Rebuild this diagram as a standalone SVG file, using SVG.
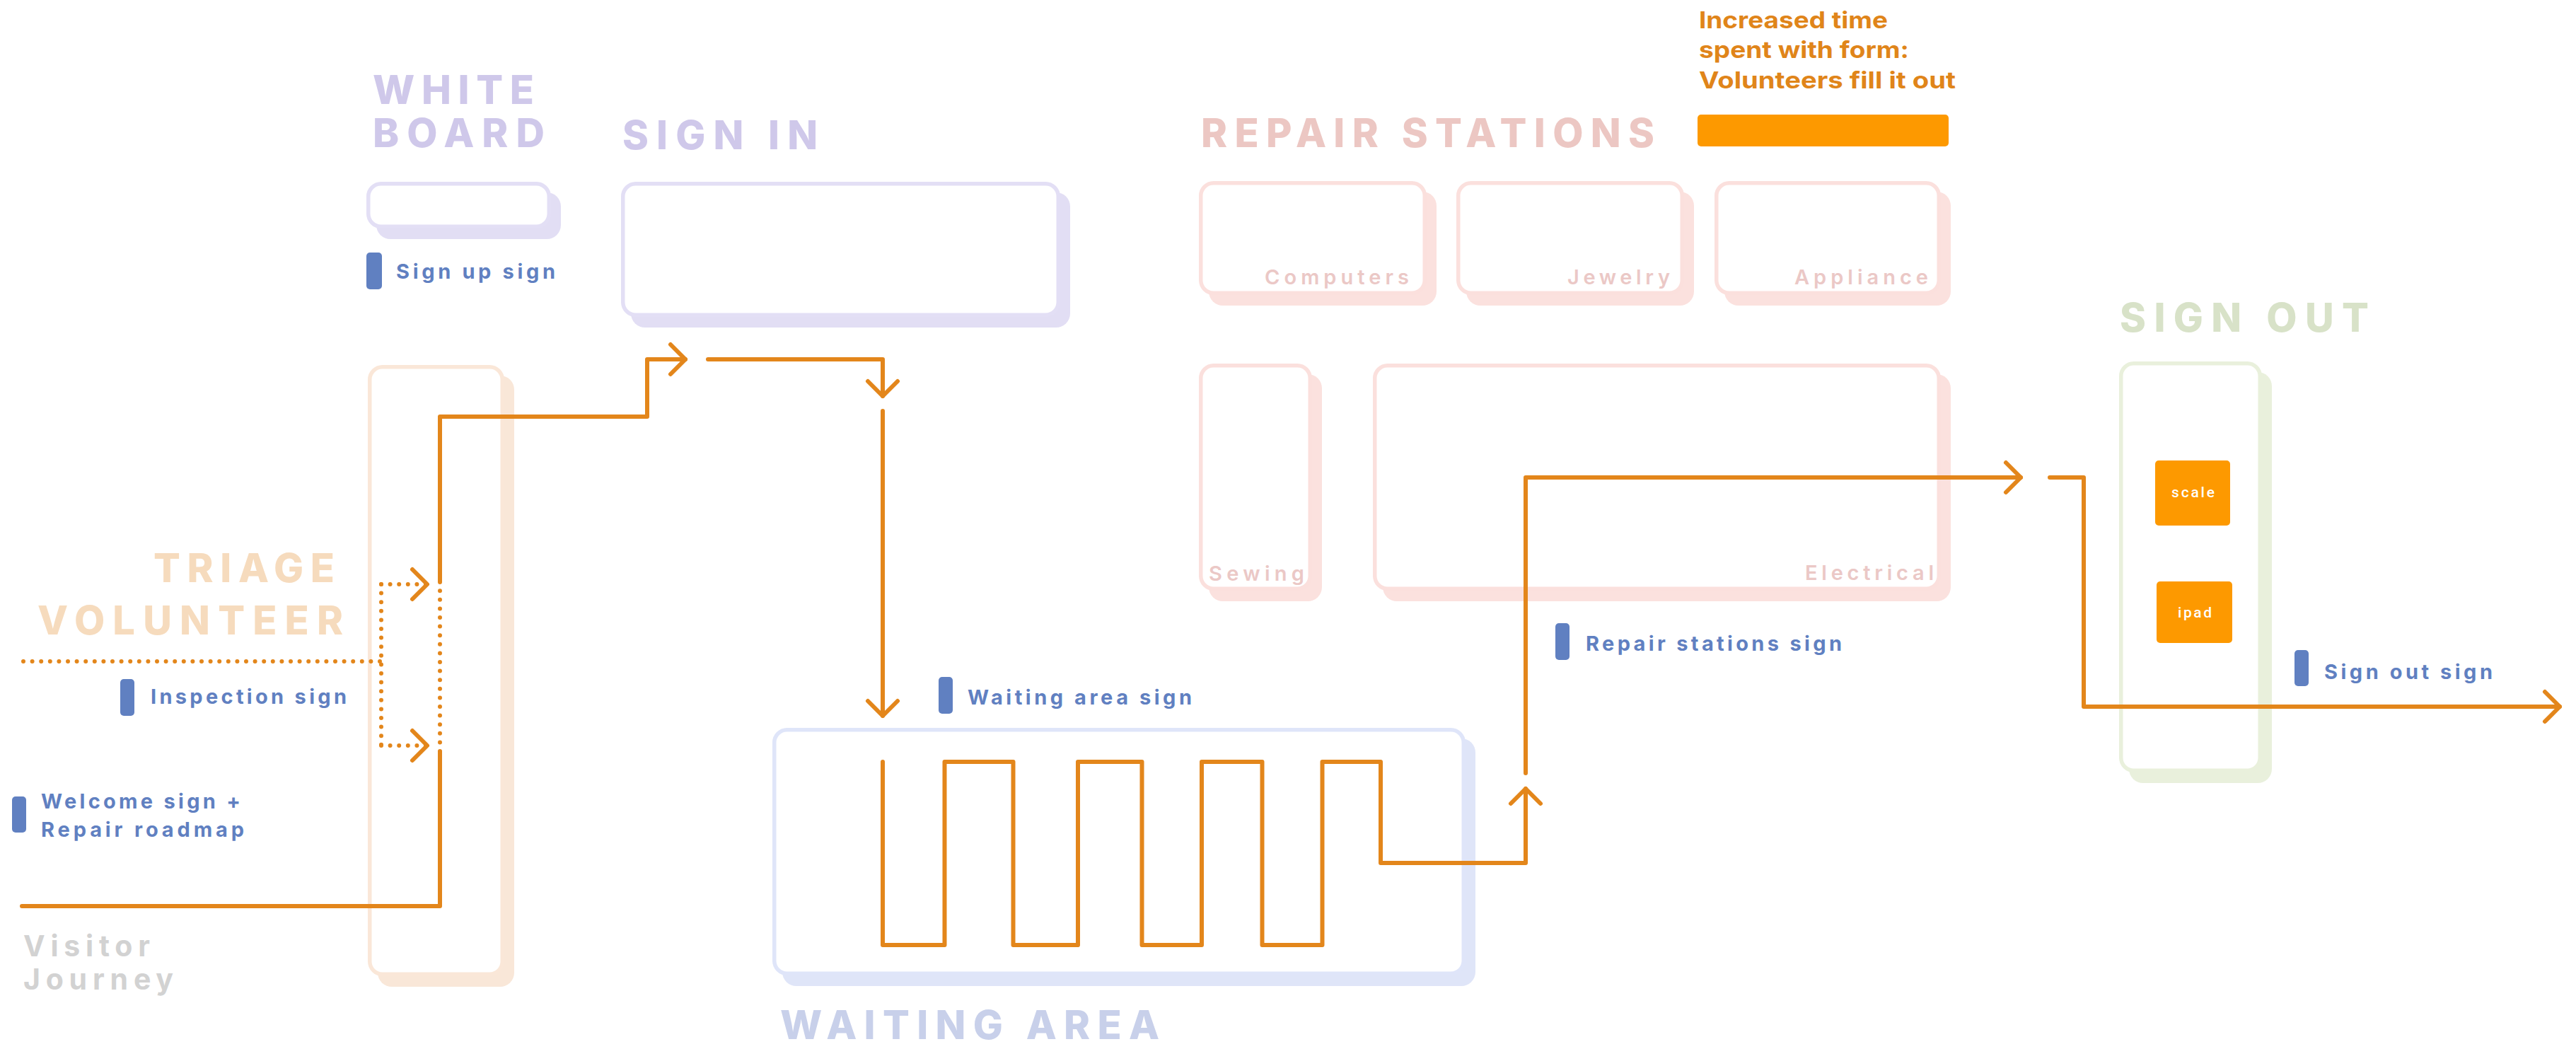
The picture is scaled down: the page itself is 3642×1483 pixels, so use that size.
<svg xmlns="http://www.w3.org/2000/svg" width="3642" height="1483" viewBox="0 0 3642 1483">
<style>
text{font-family:Inter,Lato,"Open Sans","Liberation Sans",sans-serif;font-weight:700}
.h{font-size:56px;font-weight:800}
.lav{fill:#cfc8ea}.pnk{fill:#ecc7c3}.pch{fill:#f6dbbd}.blu{fill:#c8d0ea}.grn{fill:#d8e2c8}
.lbl{font-size:29px;fill:#6080c1}
.st{font-size:29px;font-weight:600;fill:#ebc8c6}
.note{font-size:33px;fill:#e0851a}
.vis{font-size:41px;fill:#d2d2d2}
.dev{font-family:Roboto,"Liberation Sans",sans-serif;font-weight:500;font-size:21px;fill:#ffffff}
.bar{fill:#6080c1}
.box{fill:#ffffff;stroke-width:5.5}
.c-lav .box{stroke:#e3dff5}.c-lav .sh{fill:#e2def4}
.c-pnk .box{stroke:#fbe0dd}.c-pnk .sh{fill:#fbe1de}
.c-pch .box{stroke:#fae7d8}.c-pch .sh{fill:#f9e7d8}
.c-blu .box{stroke:#dfe5f9}.c-blu .sh{fill:#dfe5f8}
.c-grn .box{stroke:#e9f0dc}.c-grn .sh{fill:#e9f0dc}
.ln{fill:none;stroke:#e3861b;stroke-width:6;stroke-linecap:round;stroke-linejoin:round}
.dot{stroke-dasharray:0 12.6}
.org{fill:#fd9900}
</style>
<defs>
<marker id="chev" markerUnits="userSpaceOnUse" orient="auto" overflow="visible" markerWidth="1" markerHeight="1" refX="0" refY="0">
<path d="M -21 -21 L 0 0 L -21 21" fill="none" stroke="#e3861b" stroke-width="6" stroke-linecap="round" stroke-linejoin="round"/>
</marker>
</defs>
<rect x="0" y="0" width="3642" height="1483" fill="#ffffff"/>

<g id="whiteboard" class="c-lav">
<text class="h lav" x="527" y="147" textLength="228" lengthAdjust="spacing">WHITE</text>
<text class="h lav" x="527" y="208" textLength="243" lengthAdjust="spacing">BOARD</text>
<rect class="sh" x="532" y="272" width="261" height="66" rx="20"/>
<rect class="box" x="520.75" y="259.75" width="255.5" height="60.5" rx="18"/>
</g>
<g id="sign-up-sign">
<rect class="bar" x="518" y="357" width="22" height="52" rx="5"/>
<text class="lbl" x="560" y="394" textLength="225" lengthAdjust="spacing">Sign up sign</text>
</g>

<g id="sign-in" class="c-lav">
<text class="h lav" x="880" y="211" textLength="276" lengthAdjust="spacing">SIGN IN</text>
<rect class="sh" x="892" y="272" width="621" height="191" rx="20"/>
<rect class="box" x="880.75" y="259.75" width="615.5" height="185.5" rx="18"/>
</g>

<g id="repair-stations" class="c-pnk">
<text class="h pnk" x="1698" y="208" textLength="641" lengthAdjust="spacing">REPAIR STATIONS</text>
</g>
<g id="computers" class="c-pnk">
<rect class="sh" x="1709" y="271" width="322" height="161" rx="20"/>
<rect class="box" x="1697.75" y="258.75" width="316.5" height="155.5" rx="18"/>
<text class="st" x="1788" y="402" textLength="204" lengthAdjust="spacing">Computers</text>
</g>
<g id="jewelry" class="c-pnk">
<rect class="sh" x="2073" y="271" width="322" height="161" rx="20"/>
<rect class="box" x="2061.75" y="258.75" width="316.5" height="155.5" rx="18"/>
<text class="st" x="2216" y="402" textLength="145" lengthAdjust="spacing">Jewelry</text>
</g>
<g id="appliance" class="c-pnk">
<rect class="sh" x="2438" y="271" width="320" height="161" rx="20"/>
<rect class="box" x="2426.75" y="258.75" width="314.5" height="155.5" rx="18"/>
<text class="st" x="2537" y="402" textLength="189" lengthAdjust="spacing">Appliance</text>
</g>
<g id="sewing" class="c-pnk">
<rect class="sh" x="1709" y="529" width="160" height="321" rx="20"/>
<rect class="box" x="1697.75" y="516.75" width="154.5" height="315.5" rx="18"/>
<text class="st" x="1709" y="821" textLength="135" lengthAdjust="spacing">Sewing</text>
</g>
<g id="electrical" class="c-pnk">
<rect class="sh" x="1955" y="529" width="803" height="321" rx="20"/>
<rect class="box" x="1943.75" y="516.75" width="797.5" height="315.5" rx="18"/>
<text class="st" x="2552" y="820" textLength="182" lengthAdjust="spacing">Electrical</text>
</g>

<g id="increased-time-note">
<text class="note" x="2402" y="40" textLength="267" lengthAdjust="spacingAndGlyphs">Increased time</text>
<text class="note" x="2402" y="82" textLength="297" lengthAdjust="spacingAndGlyphs">spent with form:</text>
<text class="note" x="2402" y="125" textLength="363" lengthAdjust="spacingAndGlyphs">Volunteers fill it out</text>
<rect class="org" x="2400" y="162" width="355" height="45" rx="5"/>
</g>

<g id="triage-volunteer" class="c-pch">
<text class="h pch" x="217" y="823" textLength="256" lengthAdjust="spacing">TRIAGE</text>
<text class="h pch" x="53" y="897" textLength="432" lengthAdjust="spacing">VOLUNTEER</text>
<rect class="sh" x="534" y="531" width="193" height="864" rx="20"/>
<rect class="box" x="522.75" y="518.75" width="187.5" height="858.5" rx="18"/>
</g>
<g id="inspection-sign">
<rect class="bar" x="170" y="960" width="20" height="52" rx="5"/>
<text class="lbl" x="213" y="995" textLength="277" lengthAdjust="spacing">Inspection sign</text>
</g>
<g id="welcome-sign">
<rect class="bar" x="17" y="1126" width="20" height="51" rx="5"/>
<text class="lbl" x="58" y="1143" textLength="282" lengthAdjust="spacing">Welcome sign +</text>
<text class="lbl" x="58" y="1183" textLength="287" lengthAdjust="spacing">Repair roadmap</text>
</g>
<g id="visitor-journey">
<text class="vis" x="33" y="1352" textLength="179" lengthAdjust="spacing">Visitor</text>
<text class="vis" x="33" y="1399" textLength="212" lengthAdjust="spacing">Journey</text>
</g>

<g id="waiting-area" class="c-blu">
<rect class="sh" x="1106" y="1044" width="980" height="350" rx="20"/>
<rect class="box" x="1094.75" y="1031.75" width="974.5" height="344.5" rx="18"/>
<text class="h blu" x="1103" y="1469" textLength="536" lengthAdjust="spacing">WAITING AREA</text>
</g>
<g id="waiting-area-sign">
<rect class="bar" x="1327" y="957" width="20" height="52" rx="5"/>
<text class="lbl" x="1368" y="996" textLength="317" lengthAdjust="spacing">Waiting area sign</text>
</g>
<g id="repair-stations-sign">
<rect class="bar" x="2199" y="881" width="20" height="52" rx="5"/>
<text class="lbl" x="2242" y="920" textLength="362" lengthAdjust="spacing">Repair stations sign</text>
</g>

<g id="sign-out" class="c-grn">
<text class="h grn" x="2997" y="469" textLength="352" lengthAdjust="spacing">SIGN OUT</text>
<rect class="sh" x="3010" y="526" width="202" height="581" rx="20"/>
<rect class="box" x="2998.75" y="513.75" width="196.5" height="575.5" rx="18"/>
</g>
<g id="scale">
<rect class="org" x="3047" y="651" width="106" height="92" rx="5"/>
<text class="dev" x="3070" y="703" textLength="61" lengthAdjust="spacing">scale</text>
</g>
<g id="ipad">
<rect class="org" x="3049" y="822" width="107" height="87" rx="5"/>
<text class="dev" x="3079" y="873" textLength="48" lengthAdjust="spacing">ipad</text>
</g>
<g id="sign-out-sign">
<rect class="bar" x="3244" y="919" width="20" height="51" rx="5"/>
<text class="lbl" x="3286" y="960" textLength="238" lengthAdjust="spacing">Sign out sign</text>
</g>

<g id="connectors">
<path class="ln" d="M 31 1281 H 622 V 1063"/>
<path class="ln dot" d="M 622 1062 V 827"/>
<path class="ln" d="M 622 823 V 589 H 915 V 508 H 969" marker-end="url(#chev)"/>
<path class="ln" d="M 1001 508 H 1248 V 560" marker-end="url(#chev)"/>
<path class="ln" d="M 1248 581 V 1012" marker-end="url(#chev)"/>
<path class="ln" d="M 1248 1077 V 1336 H 1335.5 V 1077 H 1432.5 V 1336 H 1524 V 1077 H 1614.5 V 1336 H 1699 V 1077 H 1784.5 V 1336 H 1869.5 V 1077 H 1952 V 1220 H 2157 V 1115" marker-end="url(#chev)"/>
<path class="ln" d="M 2157 1093 V 675 H 2857" marker-end="url(#chev)"/>
<path class="ln" d="M 2898 675 H 2946 V 999 H 3619" marker-end="url(#chev)"/>
<path class="ln dot" d="M 33 935 H 539"/>
<path class="ln dot" d="M 539 826 V 1054"/>
<path class="ln dot" d="M 539 826 H 604" marker-end="url(#chev)"/>
<path class="ln dot" d="M 539 1054 H 604" marker-end="url(#chev)"/>
</g>
</svg>
